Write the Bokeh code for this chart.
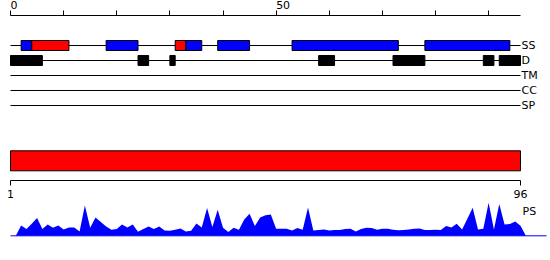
import numpy as np
from bokeh.plotting import figure
from bokeh.models import Range1d, LinearAxis, FixedTicker
from bokeh.layouts import column
from bokeh.embed import file_html
from bokeh.resources import INLINE
from bokeh.core.properties import value

# ---------------- data ----------------
top_ticks = [0, 10, 20, 30, 40, 50, 60, 70, 80, 90]
top_tick_labels = {0: "0", 50: "50"}
seq_first, seq_last = 1, 96
bottom_ticks = [1, 96]

track_names = ["SS", "D", "TM", "CC", "SP"]

ss_start = [2, 4, 18, 31, 33, 39, 53, 78]
ss_end = [4, 11, 24, 33, 36, 45, 73, 94]
ss_kind = ["E", "H", "E", "H", "E", "E", "E", "E"]

d_start = [0, 24, 30, 58, 72, 89, 92]
d_end = [6, 26, 31, 61, 78, 91, 96]

ps_values = [0, 0, 10.3, 6.7, 12, 17.7, 6.7, 11.3, 8, 10.3,
             6.3, 8.3, 8.3, 4.3, 30.3, 8, 18.3, 13.7, 9.3, 6,
             6.7, 11.3, 8.3, 11.3, 4, 6.7, 9.3, 6.7, 9.3, 5.3,
             5, 6, 7.3, 4.3, 5, 12.3, 8.3, 27.7, 8.7, 26,
             8, 3.7, 8, 6, 16.3, 22, 9.7, 18.3, 20.5, 21.3,
             7, 7, 7, 5.3, 7.7, 6, 28.3, 5.3, 5.7, 6.3,
             5.3, 5.7, 5.7, 6.7, 7, 4.3, 6.7, 8, 7.7, 6,
             7, 7, 6, 5.5, 5.7, 6.3, 7, 7.3, 5.7, 5.7,
             6, 5.7, 9.7, 8.3, 12, 6.3, 17, 28, 6.3, 7,
             33, 6.3, 31.7, 11.3, 11.7, 14.3, 10, 0]

kind_color = {"H": "#FF0000", "E": "#0000FF"}
BLUE = "#0000FF"
RED = "#FF0000"
FONT = value("DejaVu Sans")
FSIZE = value("11px")

W = 550
X0, X1 = 10, 520  # pixel extent of the sequence
PX = (X1 - X0) / 96.0
RPX = (X1 - X0) / (seq_last - seq_first)


def base_fig(height, xr, yr, **kw):
    opts = dict(min_border=0, min_border_left=0, min_border_right=0,
                min_border_top=0, min_border_bottom=0)
    opts.update(kw)
    p = figure(width=W, height=height, x_range=xr, y_range=yr,
               output_backend="svg", toolbar_location=None,
               x_axis_location=None, y_axis_location=None, **opts)
    p.outline_line_color = None
    p.xgrid.visible = False
    p.ygrid.visible = False
    p.background_fill_color = "white"
    p.border_fill_color = "white"
    return p


def style_axis(ax):
    ax.major_tick_out = 5
    ax.major_tick_in = 0
    ax.minor_tick_out = 0
    ax.minor_tick_in = 0
    ax.axis_line_color = "black"
    ax.major_tick_line_color = "black"
    ax.major_label_text_font = "DejaVu Sans"
    ax.major_label_text_font_size = "11px"
    ax.major_label_text_color = "black"
    ax.major_label_standoff = 0


xr_top = Range1d(-X0 / PX, (W - X0) / PX)

# ---------------- top ruler (pixel rows 0..15): ticks point up, labels left aligned ----------------
p0 = base_fig(16, xr_top, Range1d(0, 15), min_border_bottom=1)
ax0 = LinearAxis(ticker=FixedTicker(ticks=top_ticks), bounds=(0, 96))
style_axis(ax0)
ax0.major_tick_out = 0
ax0.major_tick_in = 5
ax0.major_label_overrides = {t: "" for t in top_ticks}
p0.add_layout(ax0, "below")
lab_x = list(top_tick_labels.keys())
p0.text(x=lab_x, y=[15] * len(lab_x), text=[top_tick_labels[t] for t in lab_x],
        text_font=FONT, text_font_size=FSIZE, text_color="black",
        text_baseline="top", text_align="left")

# ---------------- tracks: frame spans pixel rows 16..120, row k at 45 + 15k ----------------
p1 = base_fig(104, xr_top, Range1d(5, (16 - 45) / 15.0))
rows = list(range(len(track_names)))
p1.segment(x0=[0] * len(rows), x1=[96] * len(rows), y0=rows, y1=rows,
           line_color="black", line_width=1)
half = 1 / 3.0
p1.quad(left=ss_start, right=ss_end, top=[-half] * len(ss_start),
        bottom=[half] * len(ss_start),
        fill_color=[kind_color[k] for k in ss_kind], line_color="black", line_width=1)
p1.quad(left=d_start, right=d_end, top=[1 - half] * len(d_start),
        bottom=[1 + half] * len(d_start),
        fill_color="black", line_color="black", line_width=1)
p1.text(x=[96] * len(rows), y=rows, text=track_names, x_offset=1,
        text_font=FONT, text_font_size=FSIZE, text_color="black",
        text_baseline="middle", text_align="left")

# ---------------- middle: sequence bar + residue axis ----------------
xr_res = Range1d(seq_first - X0 / RPX, seq_first + (W - X0) / RPX)
p2 = base_fig(82, xr_res, Range1d(180, 120), min_border_bottom=22)
p2.quad(left=[seq_first], right=[seq_last], top=[150.3], bottom=[170.3],
        fill_color=RED, line_color="black", line_width=1)
ax2 = LinearAxis(ticker=FixedTicker(ticks=bottom_ticks), bounds=(seq_first, seq_last))
style_axis(ax2)
ax2.major_label_standoff = 4
p2.add_layout(ax2, "below")

# ---------------- bottom: PS profile (pixel rows 202..260) ----------------
p3 = base_fig(58, xr_top, Range1d(-24.7, 33.3))
xs = np.arange(len(ps_values))
p3.varea(x=xs, y1=np.zeros(len(ps_values)), y2=ps_values, fill_color=BLUE)
p3.segment(x0=[0], x1=[(546 - X0) / PX], y0=[0], y1=[0], line_color=BLUE, line_width=1)
p3.text(x=[96], y=[24.8], text=["PS"], x_offset=2,
        text_font=FONT, text_font_size=FSIZE, text_color="black",
        text_baseline="middle", text_align="left")

layout = column(p0, p1, p2, p3, spacing=0)
open("out.html", "w").write(file_html(layout, INLINE))
